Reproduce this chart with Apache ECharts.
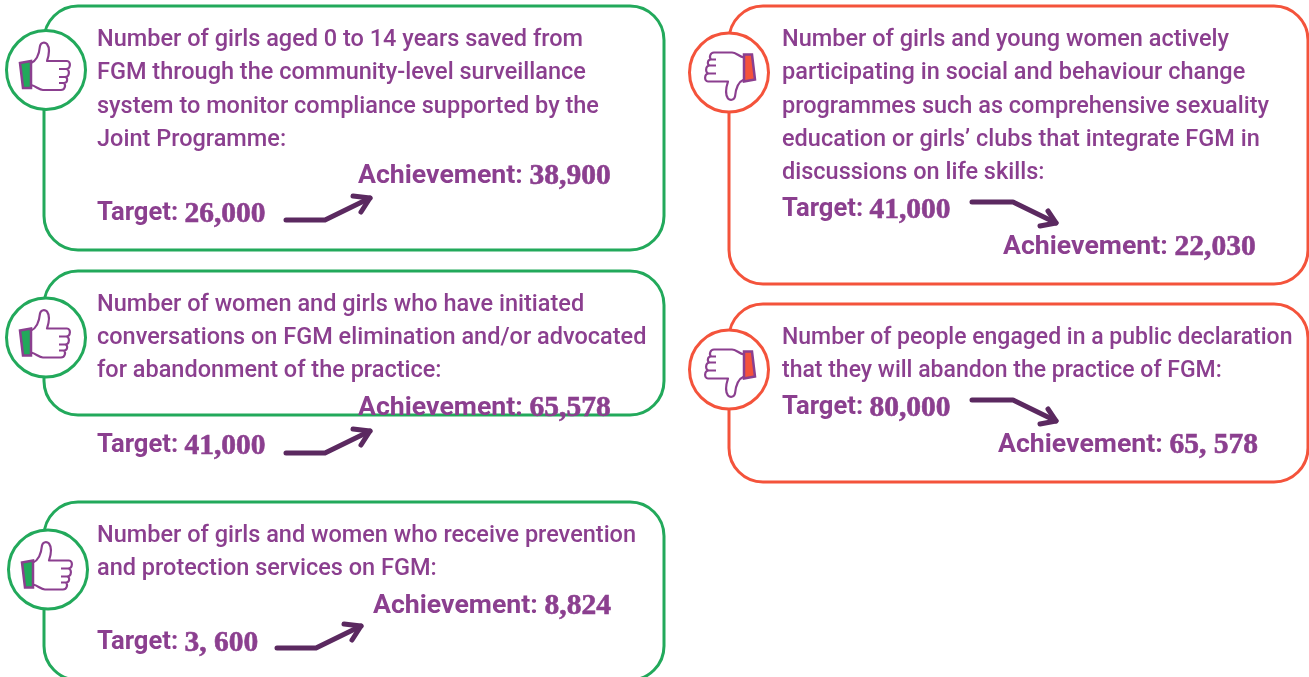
<!DOCTYPE html>
<html>
<head>
<meta charset="utf-8">
<title>FGM results</title>
<script src="https://cdn.jsdelivr.net/npm/echarts@6/dist/echarts.min.js"></script>
<style>
html,body{margin:0;padding:0;background:#fff}
#main{width:1309px;height:677px}
</style>
</head>
<body>
<div id="main"></div>
<script>
// chart content
const descriptions = [
    ['Number of girls aged 0 to 14 years saved from','FGM through the community-level surveillance','system to monitor compliance supported by the','Joint Programme:'],
    ['Number of women and girls who have initiated','conversations on FGM elimination and/or advocated','for abandonment of the practice:'],
    ['Number of girls and women who receive prevention','and protection services on FGM:'],
    ['Number of girls and young women actively','participating in social and behaviour change','programmes such as comprehensive sexuality','education or girls’ clubs that integrate FGM in','discussions on life skills:'],
    ['Number of people engaged in a public declaration','that they will abandon the practice of FGM:']
]
const targets = ['26,000','41,000','3, 600','41,000','80,000']
const achievements = ['38,900','65,578','8,824','22,030','65, 578']
const reached = [true,true,true,false,false]

// where each card sits on the page
const layout = [
    {box:[44,6,620,244],circle:[46,70],lineY:[40.5,73.5,107.5,140.5],textX:97,textSize:23.5,target:[97,214],ach:[358,176],arrow:[286,220]},
    {box:[44,271,620,144],circle:[46,337.5],lineY:[305.5,338.5,371.5],textX:97,textSize:23.5,target:[97,446],ach:[358,408],arrow:[286,453]},
    {box:[44,502,620,178],circle:[48,569.5],lineY:[536.5,569.5],textX:97,textSize:23.5,target:[97,643],ach:[373,606],arrow:[277,648]},
    {box:[729,6,579,278],circle:[729,72.5],lineY:[40.5,73.5,107.5,140.5,173.5],textX:782,textSize:23.5,target:[782,210],ach:[1003,247],arrow:[972,202]},
    {box:[729,304,579,178],circle:[729,369.5],lineY:[338.5,371.5],textX:782,textSize:23,target:[782,408],ach:[998,445],arrow:[972,400]}
]

const GREEN = '#22a95b'
const RED = '#f4533b'
const PURPLE = '#8b3f8f'
const DARK = '#5b2960'

const handPath = 'M-15,-7 C-10,-9 -7,-14 -6,-24 C-5,-28 -1,-28 1,-26 C4,-22 3,-15 1,-9 L21,-9 C25,-9 25,-1 20,-1 L13,-1 M20,-1 C24,-1 24,7 19,7 L13,7 M19,7 C22,7 22,13 18,13 L13,13 M18,13 C20,15 19,20 15,20 L-3,20 C-7,20 -10,16 -15,15'
echarts.graphic.registerShape('thumbHand', echarts.graphic.extendPath(handPath))

const richStyles = {
    t:{fontFamily:'Roboto',fontWeight:700,fontSize:25.6,lineHeight:30,fill:PURPLE},
    a:{fontFamily:'Roboto',fontWeight:700,fontSize:26.7,lineHeight:30,fill:PURPLE},
    b:{fontFamily:'Liberation Serif',fontWeight:700,fontSize:29.5,lineHeight:30,fill:PURPLE,stroke:PURPLE,lineWidth:0.6}
}

const labelText = (x,y,key,name,value) => ({
    type:'text',z:5,
    style:{x,y,text:'{'+key+'|'+name+': }{b|'+value+'}',rich:richStyles,verticalAlign:'middle',align:'left'}
})

const buildCard = (i) => {
    const l = layout[i]
    const color = reached[i] ? GREEN : RED
    const els = []
    els.push({type:'rect',z:1,shape:{x:l.box[0],y:l.box[1],width:l.box[2],height:l.box[3],r:34},
        style:{fill:'#fff',stroke:color,lineWidth:3}})
    els.push({type:'circle',z:2,shape:{cx:l.circle[0],cy:l.circle[1],r:39.5},
        style:{fill:'#fff',stroke:color,lineWidth:3}})
    // thumb, the down one is the same drawing turned over
    const turn = reached[i] ? 0 : Math.PI
    els.push({type:'polygon',z:3,x:l.circle[0],y:l.circle[1],rotation:turn,
        shape:{points:[[-26,-7],[-15,-9],[-15,18],[-23,18]]},
        style:{fill:color,stroke:PURPLE,lineWidth:2.5}})
    els.push({type:'thumbHand',z:3,x:l.circle[0],y:l.circle[1],rotation:turn,
        style:{fill:null,stroke:PURPLE,lineWidth:2.2,lineJoin:'round'}})

    descriptions[i].forEach((line,j)=>{
        els.push({type:'text',z:5,style:{x:l.textX,y:l.lineY[j],text:line,fill:PURPLE,
            font:'500 '+l.textSize+'px Roboto',verticalAlign:'middle',align:'left'}})
    })
    els.push(labelText(l.target[0],l.target[1],'t','Target',targets[i]))
    els.push(labelText(l.ach[0],l.ach[1],'a','Achievement',achievements[i]))

    // arrow goes up when target was beaten, down when not
    const a = l.arrow
    const arrowLine = reached[i]
        ? [[0,0],[39,0],[84,-22]]
        : [[0,0],[41,0],[84,21]]
    const arrowHead = reached[i]
        ? [[67,-24],[84,-22],[75,-8]]
        : [[76,9],[84,21],[68,24]]
    ;[arrowLine,arrowHead].forEach(points=>{
        els.push({type:'polyline',z:4,x:a[0],y:a[1],shape:{points},
            style:{fill:null,stroke:DARK,lineWidth:5,lineCap:'round',lineJoin:'round'}})
    })
    return els
}

const chart = echarts.init(document.getElementById('main'),null,{renderer:'canvas'})
chart.setOption({
    backgroundColor:'#fff',
    animation:false,
    graphic:{elements:layout.flatMap((c,i)=>buildCard(i))}
})
</script>
</body>
</html>
